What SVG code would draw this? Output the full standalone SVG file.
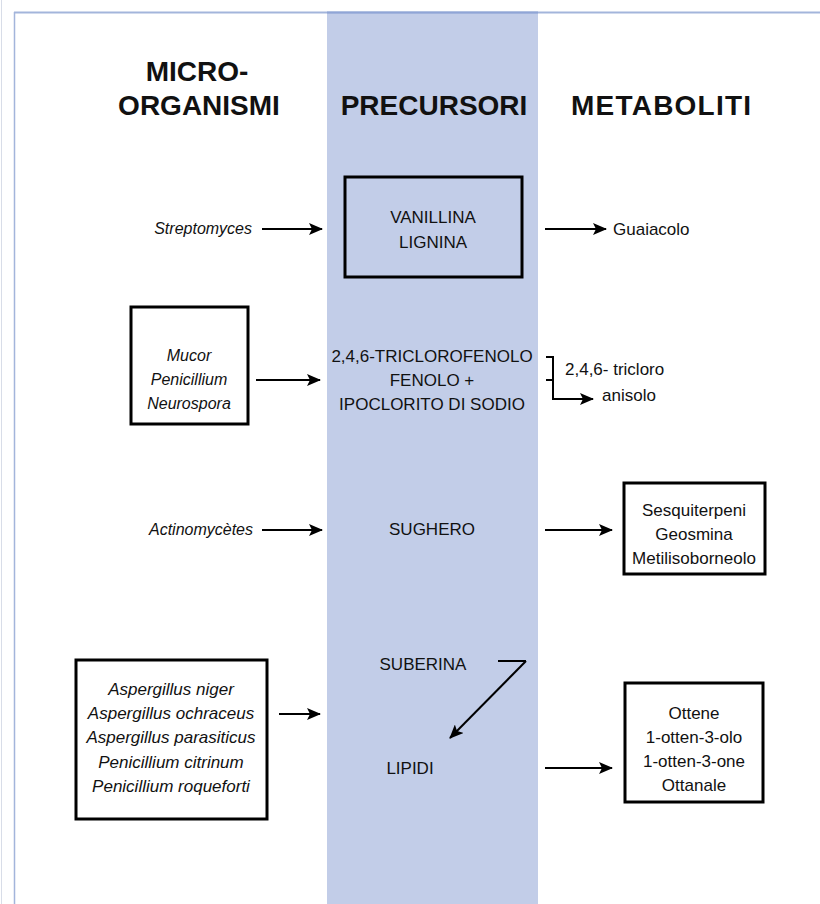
<svg xmlns="http://www.w3.org/2000/svg" width="820" height="904" viewBox="0 0 820 904">
<defs>
<marker id="ah" markerWidth="14" markerHeight="12" viewBox="0 0 14 12" refX="13" refY="6" orient="auto" markerUnits="userSpaceOnUse">
<path d="M0,0 L14,6 L0,12 L3,6 z" fill="#000"/>
</marker>
</defs>
<style>
.hd{font-family:"Liberation Sans",Arial,sans-serif;font-weight:bold;font-size:28px;text-anchor:middle;fill:#111}
.t{font-family:"Liberation Sans",Arial,sans-serif;font-size:17px;text-anchor:middle;fill:#111}
.i{font-family:"Liberation Sans",Arial,sans-serif;font-size:16px;font-style:italic;text-anchor:middle;fill:#111}
.e{text-anchor:end}
.box{fill:#fff;stroke:#000;stroke-width:3}
.ln{fill:none;stroke:#000;stroke-width:2}
.ar{fill:none;stroke:#000;stroke-width:2;marker-end:url(#ah)}
</style>
<rect width="820" height="904" fill="#fff"/>
<line x1="1.5" y1="0" x2="1.5" y2="904" stroke="#d8dde8" stroke-width="1"/>
<rect x="327" y="12" width="211" height="892" fill="#c2cde8"/>
<line x1="14" y1="12.5" x2="820" y2="12.5" stroke="#a3b5db" stroke-width="2"/>
<line x1="14.5" y1="12" x2="14.5" y2="904" stroke="#a3b5db" stroke-width="1.5"/>
<line x1="327" y1="12.5" x2="538" y2="12.5" stroke="#90a5d6" stroke-width="2"/>

<g id="headers">
<text class="hd" x="197" y="81">MICRO-</text>
<text class="hd" x="199" y="115">ORGANISMI</text>
<text class="hd" x="434" y="115">PRECURSORI</text>
<text class="hd" x="661" y="115" textLength="180">METABOLITI</text>
</g>

<g id="streptomyces"><text class="i e" x="252" y="234">Streptomyces</text></g>
<g id="vanillina"><rect class="box" x="345" y="177" width="177" height="100" style="fill:#c2cde8"/>
<text class="t" x="433" y="223">VANILLINA</text><text class="t" x="433" y="248">LIGNINA</text></g>
<g id="guaiacolo"><text class="t" x="613" y="235" style="text-anchor:start">Guaiacolo</text></g>

<g id="mucor"><rect class="box" x="131" y="307" width="117" height="117"/>
<text class="i" x="189" y="361">Mucor</text><text class="i" x="189" y="385">Penicillium</text><text class="i" x="189" y="409">Neurospora</text></g>
<g id="triclorofenolo">
<text class="t" x="432" y="362">2,4,6-TRICLOROFENOLO</text>
<text class="t" x="432" y="386">FENOLO +</text>
<text class="t" x="432" y="410">IPOCLORITO DI SODIO</text></g>
<g id="tricloroanisolo"><text class="t" x="565" y="375" style="text-anchor:start">2,4,6- tricloro</text>
<text class="t" x="629" y="401">anisolo</text></g>

<g id="actinomycetes"><text class="i e" x="253" y="535">Actinomycètes</text></g>
<g id="sughero"><text class="t" x="432" y="535">SUGHERO</text></g>
<g id="sesquiterpeni"><rect class="box" x="624" y="483" width="141" height="91"/>
<text class="t" x="694" y="516">Sesquiterpeni</text><text class="t" x="694" y="540">Geosmina</text><text class="t" x="694" y="564">Metilisoborneolo</text></g>

<g id="aspergillus"><rect class="box" x="76" y="660" width="191" height="159"/>
<text class="i" x="171" y="695" style="font-size:17px">Aspergillus niger</text>
<text class="i" x="171" y="719" style="font-size:17px">Aspergillus ochraceus</text>
<text class="i" x="171" y="743" style="font-size:17px">Aspergillus parasiticus</text>
<text class="i" x="171" y="768" style="font-size:17px">Penicillium citrinum</text>
<text class="i" x="171" y="792" style="font-size:17px">Penicillium roqueforti</text></g>
<g id="suberina"><text class="t" x="423" y="670">SUBERINA</text></g>
<g id="lipidi"><text class="t" x="410" y="774">LIPIDI</text></g>
<g id="ottene"><rect class="box" x="625" y="683" width="138" height="119"/>
<text class="t" x="694" y="719">Ottene</text><text class="t" x="694" y="743">1-otten-3-olo</text><text class="t" x="694" y="767">1-otten-3-one</text><text class="t" x="694" y="791">Ottanale</text></g>

<g id="connectors">
<line class="ar" x1="262" y1="229" x2="322" y2="229"/>
<line class="ar" x1="545" y1="229" x2="606" y2="229"/>
<line class="ar" x1="256" y1="380" x2="320" y2="380"/>
<path class="ln" d="M546,357 H553 V399 M546,380 H553"/>
<line class="ar" x1="552" y1="399" x2="593" y2="399"/>
<line class="ar" x1="262" y1="530" x2="322" y2="530"/>
<line class="ar" x1="545" y1="530" x2="612" y2="530"/>
<line class="ar" x1="279" y1="714" x2="320" y2="714"/>
<path class="ln" d="M498,661 H526"/>
<line class="ar" x1="526" y1="661" x2="450" y2="738"/>
<line class="ar" x1="545" y1="768" x2="612" y2="768"/>
</g>
</svg>
